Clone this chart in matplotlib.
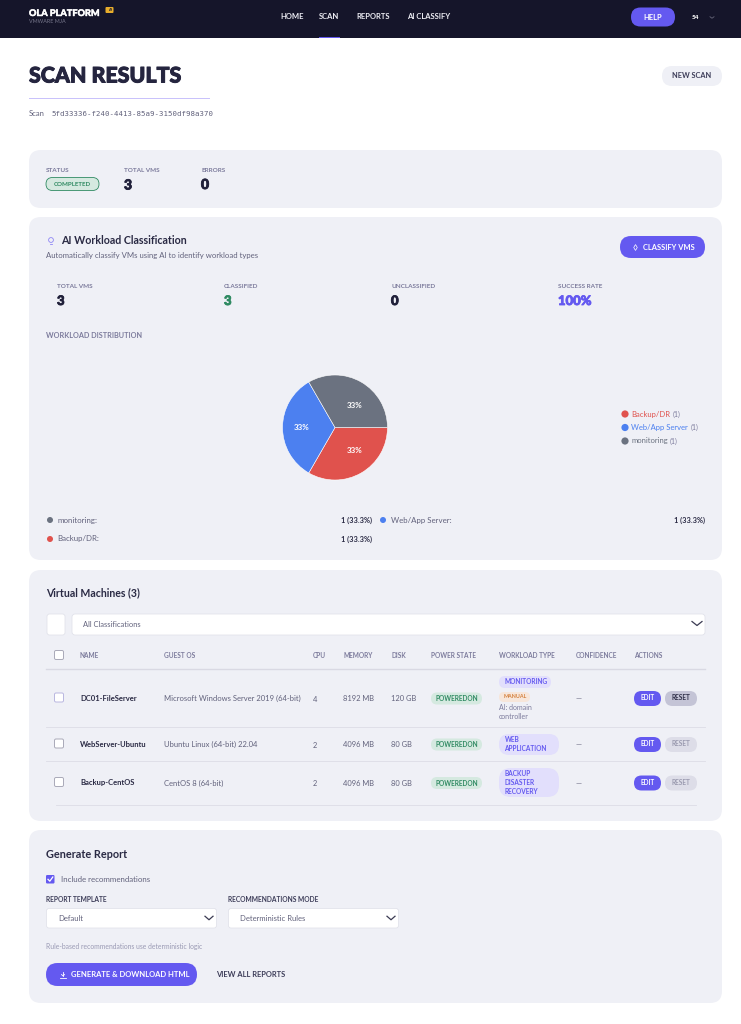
import matplotlib
matplotlib.use("Agg")
import matplotlib.pyplot as plt
import matplotlib.patheffects as pe
from matplotlib.patches import FancyBboxPatch, Rectangle, Circle

plt.rcParams['font.family'] = ['Lato', 'DejaVu Sans']

# ---- data ----
nav_items = ["HOME", "SCAN", "REPORTS", "AI CLASSIFY"]
summary_labels = ["STATUS", "TOTAL VMS", "ERRORS"]
summary_values = ["COMPLETED", "3", "0"]
ai_labels = ["TOTAL VMS", "CLASSIFIED", "UNCLASSIFIED", "SUCCESS RATE"]
ai_values = ["3", "3", "0", "100%"]
pie_categories = ["Backup/DR", "Web/App Server", "monitoring"]
pie_values = [1, 1, 1]
pie_colors = ["#e0524d", "#4c80f0", "#6b7280"]
table_cols = ["NAME", "GUEST OS", "CPU", "MEMORY", "DISK", "POWER STATE",
              "WORKLOAD TYPE", "CONFIDENCE", "ACTIONS"]
vm_names = ["DC01-FileServer", "WebServer-Ubuntu", "Backup-CentOS"]
vm_os = ["Microsoft Windows Server 2019 (64-bit)", "Ubuntu Linux (64-bit) 22.04",
         "CentOS 8 (64-bit)"]
vm_cpu = ["4", "2", "2"]
vm_mem = ["8192 MB", "4096 MB", "4096 MB"]
vm_disk = ["120 GB", "80 GB", "80 GB"]
vm_power = ["POWEREDON", "POWEREDON", "POWEREDON"]
vm_reset_on = [True, False, False]

W, H = 741, 1024
DARK = "#15152a"; INK = "#25253f"; MUTED = "#7c7b9c"; GREY = "#62627c"
CARD = "#eff0f6"; PURPLE = "#6459f0"; GREEN = "#2f8a62"; GREENBG = "#d5e9e0"
LILAC = "#e2dffc"

fig = plt.figure(figsize=(W / 100, H / 100), dpi=100, facecolor="white")
ax = fig.add_axes([0, 0, 1, 1])
ax.set_xlim(0, W); ax.set_ylim(H, 0); ax.axis("off")


def box(x0, y0, x1, y1, r, fc, ec="none", lw=0, z=1):
    ax.add_patch(FancyBboxPatch((x0 + r, y0 + r), x1 - x0 - 2 * r, y1 - y0 - 2 * r,
                                boxstyle=f"round,pad={r},rounding_size={r}",
                                fc=fc, ec=ec, lw=lw, zorder=z))


def t(x, y, s, size=5.5, color=GREY, weight="normal", ha="left", family=None, stroke=0):
    kw = {"family": family} if family else {}
    txt = ax.text(x, y, s, fontsize=size, color=color, fontweight=weight, ha=ha,
                  va="center", zorder=5, **kw)
    if stroke:
        txt.set_path_effects([pe.withStroke(linewidth=stroke, foreground=color)])


def chevron(x, y, w=6, h=4, color="#3a3a52", lw=0.9):
    ax.plot([x - w, x, x + w], [y - h / 2, y + h / 2, y - h / 2], color=color, lw=lw, zorder=5)


def checkbox(x, y, s=9, ec="#a9a9b8"):
    box(x - s / 2, y - s / 2, x + s / 2, y + s / 2, 1.5, "white", ec, 0.7, 3)


# ---- header ----
ax.add_patch(Rectangle((0, 0), W, 37.5, fc=DARK, ec="none", zorder=1))
t(29, 13.5, "OLA PLATFORM", 6.6, "white", "black", stroke=0.3)
t(29, 21.5, "VMWARE MJA", 3.9, "#77778c")
box(105.5, 7, 113.5, 13, 1, "#e8ad2c", z=3)
t(109.5, 10, "AI", 2.8, DARK, "bold", "center")
for x, s in zip([280, 319, 356, 407], nav_items):
    t(x, 16.5, s, 5.5, "#eeeef5", "bold")
ax.add_patch(Rectangle((319, 36.5), 21, 1.5, fc=PURPLE, ec="none", zorder=3))
box(631, 7.5, 675, 26.5, 9.5, PURPLE, z=3)
t(653, 17, "HELP", 5.4, "white", "bold", "center")
t(692, 17.5, "54", 4.6, "white", "black")
chevron(712, 17.5, 2, 1.5, "#66667a", 0.6)

# ---- page title ----
t(29, 76, "SCAN RESULTS", 15.4, "#25253f", "black", stroke=0.7)
ax.add_patch(Rectangle((29, 97.5), 181, 1.4, fc="#c9c2fb", ec="none"))
t(29, 114, "Scan", 5.5, GREY)
t(51, 114, "5fd33336-f240-4413-85a9-3150df98a370", 5.3, GREY, family="DejaVu Sans Mono")
box(662, 66, 722, 86, 10, "#eff0f6", z=2)
t(692, 76, "NEW SCAN", 5.3, "#3c3c58", "bold", "center")

# ---- status card ----
box(29, 150, 722, 208, 12, CARD)
for x, lab in zip([46, 124, 201], summary_labels):
    t(x, 170.5, lab, 4.6, MUTED, "bold")
box(46, 177.5, 99, 190.5, 6.5, GREENBG, GREEN, 0.6, 3)
t(72.5, 184, summary_values[0], 4.4, GREEN, "bold", "center")
t(124, 185.5, summary_values[1], 10, "#20203a", "black", stroke=0.6)
t(201, 185, summary_values[2], 10, "#20203a", "black", stroke=0.6)

# ---- AI classification card ----
box(29, 217, 722, 560, 12, CARD)
ax.add_patch(Circle((51, 240), 2.4, fc="none", ec="#8f86f5", lw=0.6, zorder=5))
ax.plot([49.8, 52.2], [244.3, 244.3], color="#8f86f5", lw=0.6, zorder=5)
t(61, 241, "AI Workload Classification", 7.7, "#2a2a44", "bold")
t(46, 255.5, "Automatically classify VMs using AI to identify workload types", 5.55, GREY)
box(620, 236, 705, 258, 11, PURPLE, z=3)
ax.plot([635], [247], marker="d", ms=3, mfc="none", mec="white", mew=0.5, zorder=5)
t(643, 247, "CLASSIFY VMS", 5.4, "white", "bold")
stat_colors = ["#20203a", GREEN, "#20203a", PURPLE]
for x, lab, val, c in zip([57, 224, 391, 558], ai_labels, ai_values, stat_colors):
    t(x, 286, lab, 4.6, MUTED, "bold")
    t(x, 301, val, 9.4, c, "black", stroke=0.6)
t(46, 335, "WORKLOAD DISTRIBUTION", 5.2, MUTED, "bold")

# pie
R = 52.5
cx, cy = 335, 427.5
pax = fig.add_axes([(cx - R * 1.02) / W, 1 - (cy + R * 1.02) / H, 2.04 * R / W, 2.04 * R / H])
wedges, _, autotexts = pax.pie(pie_values, colors=pie_colors, startangle=0, counterclock=False,
                               autopct="%.0f%%", pctdistance=0.58, radius=1,
                               wedgeprops={"edgecolor": "white", "linewidth": 0.4},
                               textprops={"color": "white", "fontsize": 5.8, "fontweight": "bold"})
pax.set_xlim(-1.02, 1.02); pax.set_ylim(-1.02, 1.02); pax.set_aspect("equal")
for at, pos in zip(autotexts, [(0.38, -0.44), (-0.63, 0.0), (0.38, 0.42)]):
    at.set_position(pos)

# legend at right
for y, name, val, c in zip([414, 427.5, 441], pie_categories, pie_values, pie_colors):
    ax.add_patch(Circle((625, y), 3.6, fc=c, ec="none", zorder=5))
    ax.text(631, y, name, fontsize=5.5, color=c, va="center", zorder=5)
legend_ends = [672.5, 690.5, 669.5]
for y, val, xe in zip([414, 427.5, 441], pie_values, legend_ends):
    ax.text(xe, y, f"({val})", fontsize=5.0, color=MUTED, va="center", zorder=5)

# breakdown list
rows = [(2, 50, 57, 372, 520), (1, 383, 391, 705, 520), (0, 50, 57, 372, 539)]
for i, dx, tx, rx, y in rows:
    ax.add_patch(Circle((dx, y), 3, fc=pie_colors[i], ec="none", zorder=5))
    t(tx, y, pie_categories[i] + ":", 5.7, GREY)
    share = pie_values[i] / sum(pie_values) * 100
    t(rx, y, f"{pie_values[i]} ({share:.1f}%)", 5.3, "#2a2a44", "bold", "right")

# ---- VM card ----
box(29, 570, 722, 821, 12, CARD)
t(46, 593, "Virtual Machines (3)", 7.6, "#2a2a44", "bold")
box(47, 614, 65, 635, 2.5, "white", "#dedfe8", 0.5, 3)
box(72, 614, 705, 635, 3, "white", "#dedfe8", 0.5, 3)
t(83, 624.5, "All Classifications", 5.4, GREY)
chevron(697, 623.5, 5, 4, "#3a3a52", 0.9)

col_x = [80, 164, 313, 343, 391, 431, 499, 576, 634]
for x, c in zip(col_x, table_cols):
    t(x, 656, c, 4.7, MUTED, "bold")
checkbox(59, 655)
ax.plot([46, 705], [669, 669], color="#d9d9e3", lw=1, zorder=2)
for y, x0, x1 in [(727, 46, 705), (761, 46, 705), (804.5, 56, 696)]:
    ax.plot([x0, x1], [y, y], color="#dcdce6", lw=0.6, zorder=2)

row_y = [698.5, 744.5, 783]
for i, y in enumerate(row_y):
    checkbox(59, y - 1, ec="#b9b6e0" if i == 0 else "#a9a9b8")
    t(80, y, vm_names[i], 5.5, "#2a2a44", "bold")
    t(164, y, vm_os[i], 5.5, GREY)
    t(313, y + 0.5, vm_cpu[i], 5.3, GREY)
    t(343, y, vm_mem[i], 5.4, GREY)
    t(391, y, vm_disk[i], 5.4, GREY)
    box(431, y - 6, 482, y + 6, 6, GREENBG, z=3)
    t(456.5, y, vm_power[i], 4.7, GREEN, "bold", "center")
    t(576, y + 0.5, "—", 5.5, GREY)
    box(634, y - 7.5, 661, y + 7.5, 7.5, PURPLE, z=3)
    t(647.5, y - 0.5, "EDIT", 4.7, "white", "bold", "center")
    if vm_reset_on[i]:
        box(665, y - 7.5, 697, y + 7.5, 7.5, "#c4c4d6", z=3)
        t(681, y - 0.5, "RESET", 4.7, "#2f2f48", "bold", "center")
    else:
        box(665, y - 7.5, 697, y + 7.5, 7.5, "#dddde8", z=3)
        t(681, y - 0.5, "RESET", 4.7, "#9a9aaf", "bold", "center")

box(499, 676, 551, 688, 6, LILAC, z=3)
t(504.5, 682, "MONITORING", 4.7, PURPLE, "bold")
box(499, 692, 530, 702, 5, "#f7e6da", z=3)
t(503.5, 696.5, "MANUAL", 3.9, "#d4803c", "bold")
t(499, 708, "AI: domain", 5.0, MUTED)
t(499, 716.5, "controller", 5.0, MUTED)
box(499, 734, 559, 755, 10, LILAC, z=3)
t(504.5, 740, "WEB", 4.7, PURPLE, "bold")
t(504.5, 748.5, "APPLICATION", 4.7, PURPLE, "bold")
box(499, 768, 559, 797, 12, LILAC, z=3)
t(504.5, 774, "BACKUP", 4.7, PURPLE, "bold")
t(504.5, 782.5, "DISASTER", 4.7, PURPLE, "bold")
t(504.5, 791, "RECOVERY", 4.7, PURPLE, "bold")

# ---- report card ----
box(29, 830, 722, 1003, 12, CARD)
t(46, 854, "Generate Report", 7.8, "#2a2a44", "bold")
box(46, 875, 54.5, 883.5, 1.2, PURPLE, z=3)
ax.plot([48, 49.8, 52.8], [879.3, 881.2, 877], color="white", lw=0.9, zorder=5)
t(61, 879, "Include recommendations", 5.7, GREY)
t(46, 899, "REPORT TEMPLATE", 4.8, "#3c3c58", "bold")
t(228, 899, "RECOMMENDATIONS MODE", 4.8, "#3c3c58", "bold")
box(46.5, 908.5, 216.5, 928, 2.5, "white", "#dedfe8", 0.5, 3)
box(228.5, 908.5, 398.5, 928, 2.5, "white", "#dedfe8", 0.5, 3)
t(58, 918.5, "Default", 5.5, GREY)
t(240, 918.5, "Deterministic Rules", 5.5, GREY)
chevron(209, 918, 4, 3.5)
chevron(391, 918, 4, 3.5)
t(46, 946, "Rule-based recommendations use deterministic logic", 4.9, "#9a9ab4")
box(46, 963, 197, 986, 11.5, PURPLE, z=3)
ax.plot([63, 63], [971.5, 976], color="white", lw=0.6, zorder=5)
ax.plot([61.5, 63, 64.5], [974.5, 976, 974.5], color="white", lw=0.6, zorder=5)
ax.plot([60, 66], [978, 978], color="white", lw=0.6, zorder=5)
t(71, 974.5, "GENERATE & DOWNLOAD HTML", 5.5, "white", "bold")
t(216, 974.5, "VIEW ALL REPORTS", 5.4, "#3c3c58", "bold")

fig.savefig("out.png", dpi=100, facecolor="white")
